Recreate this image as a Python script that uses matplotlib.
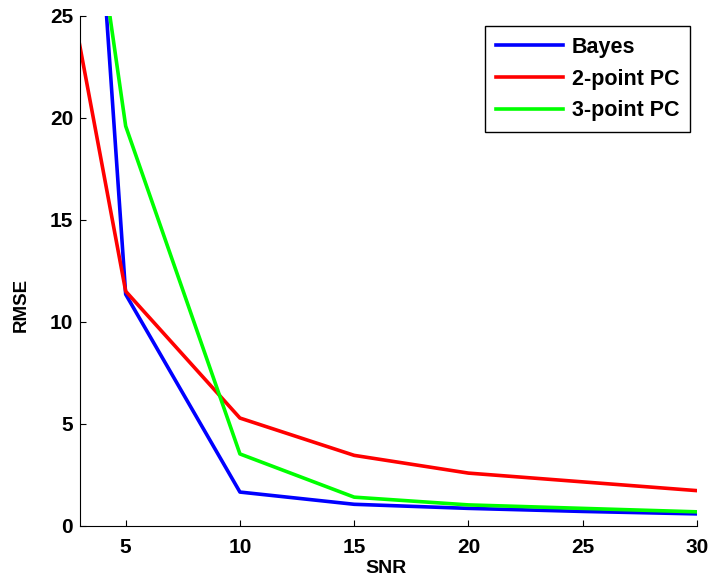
import matplotlib
matplotlib.use('Agg')
import matplotlib.pyplot as plt

plt.rcParams['font.family'] = ['Liberation Sans', 'DejaVu Sans']
plt.rcParams['font.weight'] = 'bold'

snr = [0, 5, 10, 15, 20, 25, 30]
bayes = [93.0, 11.35, 1.65, 1.05, 0.85, 0.7, 0.58]
pc2 = [41.5, 11.5, 5.28, 3.45, 2.58, 2.15, 1.72]
pc3 = [58.7, 19.6, 3.52, 1.4, 1.02, 0.85, 0.68]

fig = plt.figure(figsize=(7.09, 5.86), dpi=100)
ax = fig.add_axes([0.1128, 0.1029, 0.8702, 0.8698])

ax.plot(snr, bayes, color='#0000ff', lw=2.6, label='Bayes')
ax.plot(snr, pc2, color='#ff0000', lw=2.6, label='2-point PC')
ax.plot(snr, pc3, color='#00ff00', lw=2.6, label='3-point PC')

ax.set_xlim(3, 30)
ax.set_ylim(0, 25)
ax.set_xticks([5, 10, 15, 20, 25, 30])
ax.set_yticks([0, 5, 10, 15, 20, 25])
ax.spines['top'].set_visible(False)
ax.spines['right'].set_visible(False)
ax.tick_params(direction='in', length=4, labelsize=15)
ax.tick_params(axis='x', pad=9)
ax.tick_params(axis='y', pad=5)
for lab in ax.get_xticklabels() + ax.get_yticklabels():
    lab.set_fontweight('bold')

ax.set_xlabel('SNR', fontsize=14, fontweight='bold')
ax.set_ylabel('RMSE', fontsize=13.5, fontweight='bold')
ax.xaxis.set_label_coords(0.496, -0.083)
ax.yaxis.set_label_coords(-0.0956, 0.433)
ax.xaxis.label.set_va('center')
ax.yaxis.label.set_va('center')

leg = ax.legend(loc='upper right', bbox_to_anchor=(0.9887, 0.9804), borderaxespad=0,
                fancybox=False, framealpha=1, edgecolor='black',
                prop={'size': 15.5, 'weight': 'bold'},
                handlelength=3.1, handletextpad=0.42, borderpad=0.5, labelspacing=0.5)
leg.get_frame().set_linewidth(1.0)

plt.savefig('out.png', dpi=100)
